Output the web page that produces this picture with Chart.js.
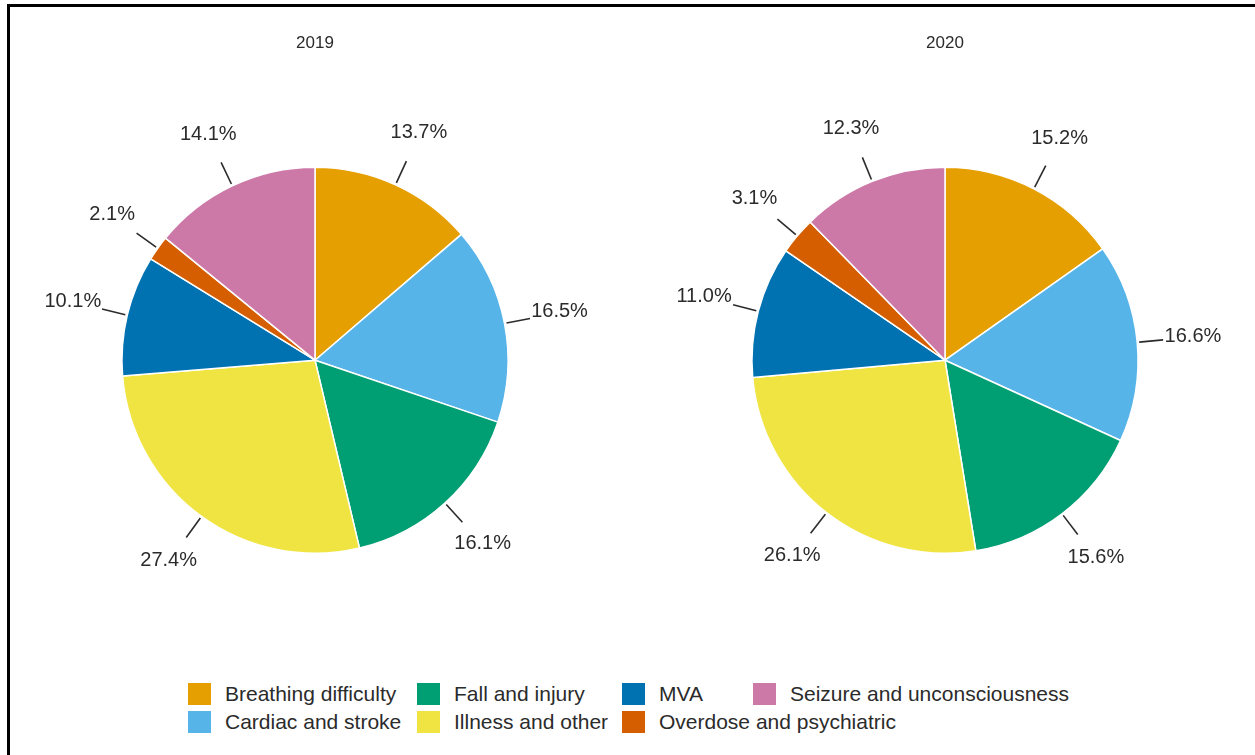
<!DOCTYPE html>
<html>
<head>
<meta charset="utf-8">
<script src="https://cdn.jsdelivr.net/npm/chart.js@4"></script>
<style>
    html, body { margin: 0; padding: 0; background: #fff; }
    body { width: 1255px; height: 755px; position: relative; overflow: hidden; font-family: "Liberation Sans", Arial, sans-serif; }
    .frame { position: absolute; left: 7px; top: 4px; right: -10px; bottom: -10px; border-top: 3px solid #000; border-left: 3px solid #000; }
    .pie { position: absolute; top: 0; width: 630px; height: 670px; }
    #legend { position: absolute; left: 0; top: 0; }
    .item { position: absolute; display: flex; align-items: center; height: 22px; font-size: 21px; color: #2b2b2b; white-space: nowrap; }
    .item span.box { width: 23px; height: 22px; margin-right: 14px; }
</style>
</head>
<body>
<div class="frame"></div>
<div class="pie" style="left:0"><canvas id="pie2019"></canvas></div>
<div class="pie" style="left:630px"><canvas id="pie2020"></canvas></div>
<div id="legend"></div>
<script>
const categories = ['Breathing difficulty', 'Cardiac and stroke', 'Fall and injury', 'Illness and other', 'MVA', 'Overdose and psychiatric', 'Seizure and unconsciousness'];
const colors = ['#E69F00', '#56B4E9', '#009E73', '#F0E442', '#0072B2', '#D55E00', '#CC79A7'];
const values2019 = [13.7, 16.5, 16.1, 27.4, 10.1, 2.1, 14.1];
const values2020 = [15.2, 16.6, 15.6, 26.1, 11.0, 3.1, 12.3];

// etiquettes exterieures avec traits de rappel
const outsideLabels = {
    id: 'outsideLabels',
    afterDatasetsDraw(chart) {
        const ctx = chart.ctx;
        const meta = chart.getDatasetMeta(0);
        const data = chart.data.datasets[0].data;
        ctx.save();
        ctx.strokeStyle = '#2b2b2b';
        ctx.lineWidth = 1.6;
        ctx.fillStyle = '#2b2b2b';
        ctx.font = '20px "Liberation Sans", Arial, sans-serif';
        ctx.textAlign = 'center';
        ctx.textBaseline = 'middle';
        meta.data.forEach(function(arc, i) {
            const p = arc.getProps(['x', 'y', 'startAngle', 'endAngle', 'outerRadius'], true);
            const mid = (p.startAngle + p.endAngle) / 2;
            const cos = Math.cos(mid), sin = Math.sin(mid);
            ctx.beginPath();
            ctx.moveTo(p.x + cos * (p.outerRadius + 2), p.y + sin * (p.outerRadius + 2));
            ctx.lineTo(p.x + cos * (p.outerRadius + 26), p.y + sin * (p.outerRadius + 26));
            ctx.stroke();
            ctx.fillText(data[i].toFixed(1) + '%', p.x + cos * (p.outerRadius + 56), p.y + sin * (p.outerRadius + 56) - 1);
        });
        ctx.restore();
    }
};

function makePie(id, year, values) {
    const ctx = document.getElementById(id).getContext('2d');
    return new Chart(ctx, {
        type: 'pie',
        data: {
            labels: categories,
            datasets: [{
                data: values,
                backgroundColor: colors,
                borderColor: '#ffffff',
                borderWidth: 1.5
            }]
        },
        options: {
            responsive: true,
            maintainAspectRatio: false,
            animation: false,
            layout: {
                padding: { top: 0, bottom: 116, left: 121, right: 121 }
            },
            plugins: {
                legend: { display: false },
                tooltip: { enabled: false },
                title: {
                    display: true,
                    text: year,
                    color: '#2b2b2b',
                    font: { family: '"Liberation Sans", Arial, sans-serif', size: 17, weight: 'normal' },
                    padding: { top: 33.5, bottom: 112.5 }
                }
            }
        },
        plugins: [outsideLabels]
    });
}

makePie('pie2019', '2019', values2019);
makePie('pie2020', '2020', values2020);

// Legende sur deux lignes, remplie colonne par colonne
const legendCols = [188, 417, 622, 753];
const legendRows = [683, 711];
const legend = document.getElementById('legend');
categories.forEach(function(name, i) {
    const item = document.createElement('div');
    item.className = 'item';
    item.style.left = legendCols[Math.floor(i / 2)] + 'px';
    item.style.top = legendRows[i % 2] + 'px';
    const box = document.createElement('span');
    box.className = 'box';
    box.style.background = colors[i];
    item.appendChild(box);
    item.appendChild(document.createTextNode(name));
    legend.appendChild(item);
});
</script>
</body>
</html>
